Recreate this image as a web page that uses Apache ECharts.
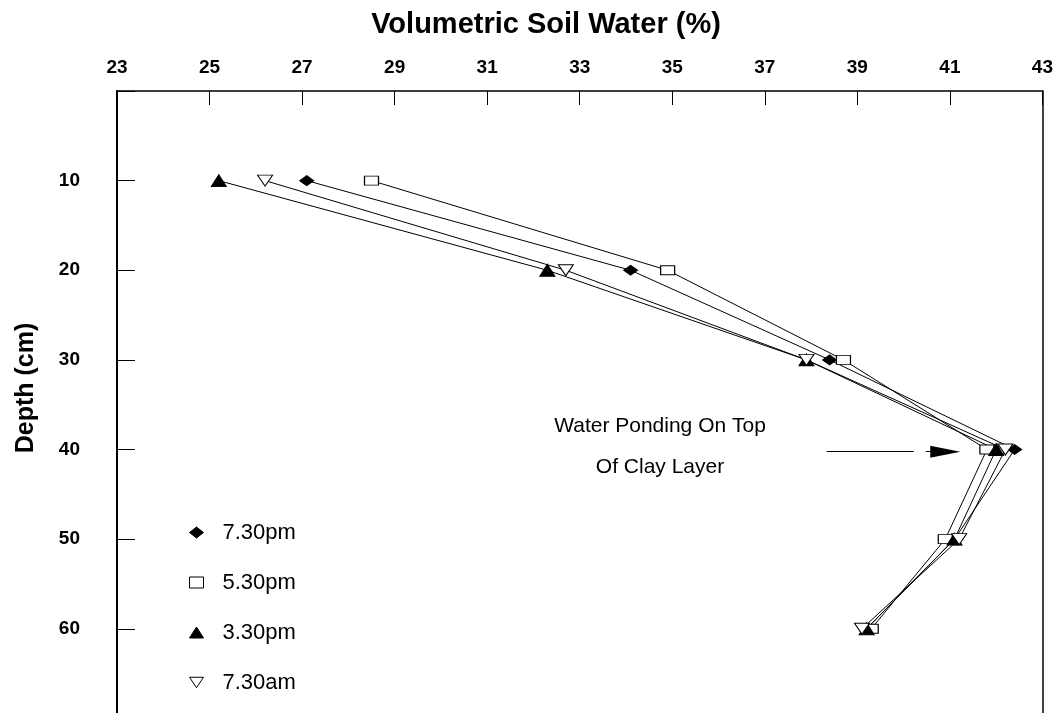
<!DOCTYPE html>
<html>
<head>
<meta charset="utf-8">
<script src="https://cdn.jsdelivr.net/npm/echarts@6/dist/echarts.min.js"></script>
<style>html,body{margin:0;padding:0;background:#fff;}#c{width:1056px;height:713px;}</style>
</head>
<body>
<div id="c"></div>
<script>
// ---- data ----
var depths = [10, 20, 30, 40, 50, 60];
var seriesNames = ['7.30pm', '5.30pm', '3.30pm', '7.30am'];
var water730pm = [27.1, 34.1, 38.4, 42.4, 41.1, 39.2];
var water530pm = [28.5, 34.9, 38.7, 41.8, 40.9, 39.3];
var water330pm = [25.2, 32.3, 37.9, 42.0, 41.1, 39.2];
var water730am = [26.2, 32.7, 37.9, 42.2, 41.2, 39.1];
var xTicks = [23, 25, 27, 29, 31, 33, 35, 37, 39, 41, 43];
var yTicks = [10, 20, 30, 40, 50, 60];
var annotationText = ['Water Ponding On Top', 'Of Clay Layer'];
var arrowSegA = [[38.34, 40.25], [40.22, 40.25]];
var arrowSegB = [[40.48, 40.25], [40.9, 40.25]];

var FONT = 'Arial, "Liberation Sans", sans-serif';
function pairs(vals) { return vals.map(function (v, i) { return [v, depths[i]]; }); }

var downTri = 'path://M0,0 L20,0 L10,15 Z';
var styles = [
  { symbol: 'diamond', size: [14, 10], item: { color: '#000', borderColor: '#000', borderWidth: 1 } },
  { symbol: 'rect', size: [14, 9], item: { color: '#fff', borderColor: '#000', borderWidth: 1 } },
  { symbol: 'triangle', size: [15, 12], item: { color: '#000', borderColor: '#000', borderWidth: 1 } },
  { symbol: downTri, size: [15, 11], item: { color: '#fff', borderColor: '#000', borderWidth: 1 } }
];
var allVals = [water730pm, water530pm, water330pm, water730am];

var series = allVals.map(function (vals, i) {
  return {
    name: seriesNames[i],
    type: 'line',
    data: pairs(vals),
    symbol: styles[i].symbol,
    symbolSize: styles[i].size,
    showAllSymbol: true,
    itemStyle: styles[i].item,
    lineStyle: { color: '#000', width: 1 },
    emphasis: { disabled: true },
    animation: false,
    z: 2
  };
});

series[0].markLine = {
  silent: true,
  animation: false,
  symbol: ['none', 'none'],
  lineStyle: { color: '#000', width: 1, type: 'solid' },
  label: { show: false },
  data: [
    [{ coord: arrowSegA[0] }, { coord: arrowSegA[1] }],
    [{ coord: arrowSegB[0], symbol: 'none' }, { coord: arrowSegB[1], symbol: 'triangle', symbolSize: [12, 30] }]
  ]
};

var option = {
  backgroundColor: '#fff',
  animation: false,
  grid: { left: 117, right: 12, top: 91, bottom: 0, show: false },
  xAxis: {
    type: 'value', position: 'top', min: 23, max: 43, interval: 2,
    axisLine: { show: true, lineStyle: { color: '#000', width: 1.5 } },
    axisTick: { show: true, inside: true, length: 14, lineStyle: { color: '#000', width: 1 } },
    axisLabel: { margin: 14, color: '#000', fontSize: 19, fontWeight: 'bold', fontFamily: FONT,
      formatter: function (v) { return xTicks.indexOf(v) >= 0 ? String(v) : ''; } },
    splitLine: { show: false }
  },
  yAxis: [{
    type: 'value', inverse: true, min: 0, max: 69.4, interval: 10,
    axisLine: { show: true, lineStyle: { color: '#000', width: 2 } },
    axisTick: { show: true, inside: true, length: 18, lineStyle: { color: '#000', width: 1 } },
    axisLabel: { margin: 37, color: '#000', fontSize: 19, fontWeight: 'bold', fontFamily: FONT, showMaxLabel: false,
      formatter: function (v) { return yTicks.indexOf(v) >= 0 ? String(v) : ''; } },
    splitLine: { show: false }
  }, {
    type: 'value', position: 'right', inverse: true, min: 0, max: 69.4, interval: 10,
    axisLine: { show: true, onZero: false, lineStyle: { color: '#000', width: 1.5 } },
    axisTick: { show: false }, axisLabel: { show: false }, splitLine: { show: false }
  }],
  legend: {
    orient: 'vertical', left: 184, top: 516,
    itemWidth: 14, itemHeight: 11, itemGap: 27,
    selectedMode: false,
    textStyle: { color: '#000', fontSize: 22, fontFamily: FONT, lineHeight: 23, padding: [0, 0, 0, 14] },
    data: [
      { name: seriesNames[0], icon: 'diamond', itemStyle: styles[0].item },
      { name: seriesNames[1], icon: 'rect', itemStyle: styles[1].item },
      { name: seriesNames[2], icon: 'triangle', itemStyle: styles[2].item },
      { name: seriesNames[3], icon: downTri, itemStyle: styles[3].item }
    ]
  },
  graphic: [
    { type: 'text', x: 546, y: 25, style: { text: 'Volumetric Soil Water (%)', font: 'bold 29px ' + FONT, fill: '#000', textAlign: 'center', textVerticalAlign: 'middle' } },
    { type: 'text', x: 26, y: 388, rotation: Math.PI / 2, style: { text: 'Depth (cm)', font: 'bold 25px ' + FONT, fill: '#000', textAlign: 'center', textVerticalAlign: 'middle' } },
    { type: 'text', x: 660, y: 426, style: { text: annotationText[0], font: '21px ' + FONT, fill: '#000', textAlign: 'center', textVerticalAlign: 'middle' } },
    { type: 'text', x: 660, y: 467, style: { text: annotationText[1], font: '21px ' + FONT, fill: '#000', textAlign: 'center', textVerticalAlign: 'middle' } }
  ],
  series: series
};

var chart = echarts.init(document.getElementById('c'), null, { renderer: 'canvas' });
chart.setOption(option);
</script>
</body>
</html>
